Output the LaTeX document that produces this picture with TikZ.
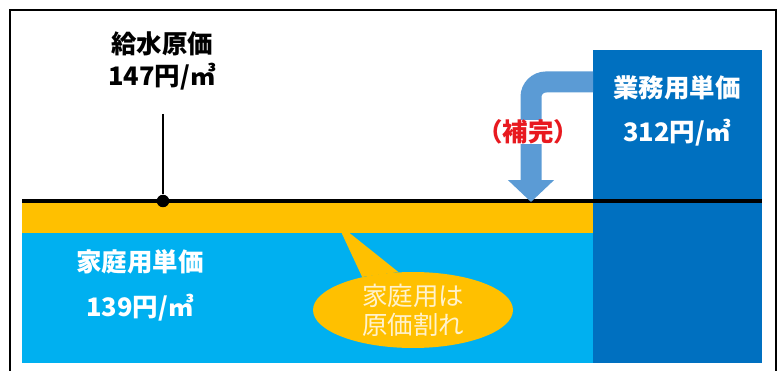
\documentclass[tikz,border=0pt]{standalone}
\usepackage{fontspec}
\setmainfont{Noto Sans CJK JP}
\usetikzlibrary{shapes.geometric, arrows.meta}

\definecolor{bandorange}{HTML}{FFC000}
\definecolor{homecyan}{HTML}{00B0F0}
\definecolor{bizblue}{HTML}{0070C0}
\definecolor{helpblue}{HTML}{5B9BD5}
\definecolor{cream}{HTML}{FFF2CC}
\definecolor{helpred}{HTML}{E8191F}

\tikzset{
    pricelabel/.style={font=\bfseries\fontsize{14.5}{18}\selectfont, inner sep=1pt},
    whitelabel/.style={pricelabel, text=white},
}

\begin{document}
\begin{tikzpicture}[x=0.02cm, y=-0.02cm]
        \useasboundingbox (0,0) rectangle (778,371);

        % Frame
        \draw[line width=0.8pt] (10,371) -- (10,10) -- (776,10) -- (776,371);

        % Areas
        \fill[homecyan] (22,233) rectangle (593,363);
        \fill[bandorange] (22,202) rectangle (593,233);
        \node[fill=bizblue, minimum width=3.38cm, minimum height=6.26cm, anchor=north west, inner sep=0pt] (bizbox) at (593,50) {};

        % Price line
        \coordinate (lineleft) at (22,201);
        \coordinate (lineright) at (762,201);
        \draw[line width=2.2pt] (lineleft) -- (lineright);

        % Nodes
        \node[pricelabel, align=center] (costlabel) at (162,61) {給水原価\\147円/㎥};
        \node[circle, fill=black, minimum size=0.25cm, inner sep=0pt] (costdot) at (163,201) {};
        \coordinate (costtop) at (163,114);
        \node[whitelabel] (homename) at (140,262) {家庭用単価};
        \node[whitelabel] (homevalue) at (140,308) {139円/㎥};
        \node[whitelabel] (bizname) at (677,88) {業務用単価};
        \node[whitelabel] (bizvalue) at (677,133) {312円/㎥};
        \node[ellipse, fill=bandorange, minimum width=4cm, minimum height=1.52cm, inner sep=0pt,
              text=cream, align=center, font=\fontsize{14.5}{16.5}\selectfont] (deficit) at (413,310) {家庭用は\\原価割れ};
        \coordinate (deficittip) at (337,223);
        \fill[bandorange] (deficit.147) -- (deficittip) -- (deficit.111) -- cycle;

        % Edges
        \draw[line width=0.8pt] (costtop) -- (costdot);
        \coordinate (bendrow) at (0,82);
        \coordinate (helptip) at (531,202);
        \draw[helpblue, line width=0.42cm, rounded corners=0.3cm,
              -{Triangle[width=0.9cm, length=0.44cm]}]
              (bizbox.west |- bendrow) -- (helptip |- bendrow) -- (helptip);
        \node[pricelabel, text=helpred, fill=white, inner sep=0pt] (helpnote) at (528,132) {（補完）};

    \end{tikzpicture}
\end{document}
